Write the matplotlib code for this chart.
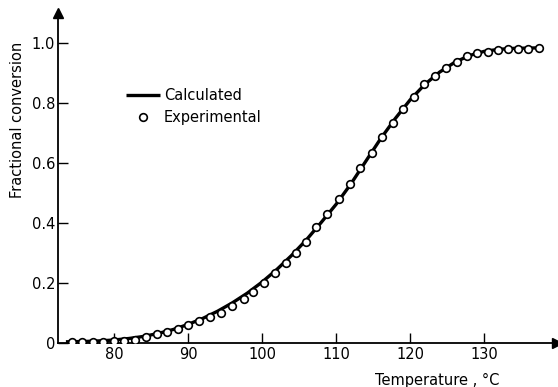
import matplotlib
matplotlib.use("Agg")
import matplotlib.pyplot as plt

# experimental points (temperature in degC, fractional conversion)
exp_temp = [74.3, 75.7, 77.1, 78.5, 80.0, 81.4, 82.8, 84.3, 85.8, 87.2, 88.6,
            90.0, 91.5, 93.0, 94.4, 95.9, 97.5, 98.8, 100.3, 101.7, 103.2,
            104.6, 106.0, 107.3, 108.8, 110.4, 111.9, 113.2, 114.8, 116.2,
            117.7, 119.1, 120.5, 121.9, 123.4, 124.9, 126.3, 127.7, 129.1,
            130.6, 131.9, 133.3, 134.6, 136.0, 137.4]
exp_conv = [0.003, 0.003, 0.004, 0.005, 0.006, 0.008, 0.010, 0.021, 0.029,
            0.036, 0.046, 0.060, 0.073, 0.088, 0.101, 0.123, 0.147, 0.170,
            0.199, 0.232, 0.266, 0.299, 0.338, 0.386, 0.429, 0.479, 0.529,
            0.582, 0.634, 0.688, 0.734, 0.779, 0.821, 0.862, 0.891, 0.916,
            0.936, 0.957, 0.967, 0.971, 0.977, 0.981, 0.979, 0.980, 0.983]

# calculated curve
calc_temp = [73.5, 76, 78, 80, 82, 84, 86, 88, 90, 92, 94, 96, 98, 100, 102,
             104, 106, 108, 110, 112, 114, 116, 118, 120, 122, 124, 126, 128,
             130, 132, 134, 136, 137.5]
calc_conv = [0.004, 0.005, 0.007, 0.010, 0.015, 0.022, 0.032, 0.045, 0.062,
             0.082, 0.106, 0.134, 0.166, 0.203, 0.245, 0.292, 0.344, 0.402,
             0.462, 0.530, 0.605, 0.680, 0.748, 0.810, 0.862, 0.903, 0.935,
             0.958, 0.972, 0.979, 0.982, 0.983, 0.984]

x_ticks = [80, 90, 100, 110, 120, 130]
y_ticks = [0, 0.2, 0.4, 0.6, 0.8, 1.0]
y_labels = ["0", "0.2", "0.4", "0.6", "0.8", "1.0"]

plt.rcParams['font.family'] = ['DejaVu Sans']

fig = plt.figure(figsize=(5.58, 3.87), dpi=100)
ax = fig.add_axes([58 / 558, 44 / 387, 499 / 558, 330 / 387])

ax.plot(calc_temp, calc_conv, color='black', lw=2.4, label='Calculated',
        solid_capstyle='butt', zorder=2)
ax.plot(exp_temp, exp_conv, 'o', ms=5.5, mfc='white', mec='black', mew=1.2,
        label='Experimental', zorder=3)

ax.set_xlim(72.43, 139.86)
ax.set_ylim(0, 1.1)

for side in ['top', 'right']:
    ax.spines[side].set_visible(False)
for side in ['left', 'bottom']:
    ax.spines[side].set_linewidth(1.3)

# arrow heads on the axes
ax.plot(1, 0, '>k', ms=7, transform=ax.transAxes, clip_on=False)
ax.plot(0, 1, '^k', ms=7, transform=ax.transAxes, clip_on=False)

ax.set_xticks(x_ticks)
ax.set_yticks(y_ticks)
ax.set_yticklabels(y_labels)
ax.tick_params(direction='in', length=7.5, width=1.0, labelsize=10.5, pad=3)
ax.tick_params(axis='y', pad=2)

fig.text(18 / 558, 1 - 120 / 387, 'Fractional conversion', rotation=90,
         ha='center', va='center', fontsize=10.5)
fig.text(437 / 558, 1 - 380 / 387, 'Temperature , °C', ha='center',
         va='center', fontsize=10.5)

ax.legend(loc='upper left', bbox_to_anchor=(126 / 558, 1 - 88 / 387),
          bbox_transform=fig.transFigure, frameon=False, fontsize=10.5,
          handlelength=2.3, handletextpad=0.3, labelspacing=0.5,
          borderpad=0, borderaxespad=0)

fig.savefig('out.png', dpi=100)
